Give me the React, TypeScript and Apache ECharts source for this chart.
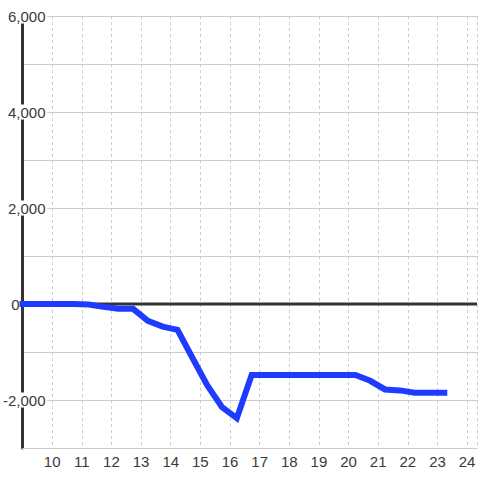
import React, { useEffect, useRef } from "react";
import * as echarts from "echarts";

const times = [
  9.0, 9.73, 10.23, 10.73, 11.23, 11.73, 12.23, 12.73, 13.23, 13.73, 14.23,
  14.73, 15.23, 15.73, 16.23, 16.73, 17.23, 17.73, 18.23, 18.73, 19.23, 19.73,
  20.23, 20.73, 21.23, 21.73, 22.23, 22.73, 23.23,
];
const values = [
  0, 0, 0, 0, -10, -60, -100, -100, -350, -470, -540, -1120, -1690, -2150,
  -2380, -1480, -1480, -1480, -1480, -1480, -1480, -1480, -1480, -1600, -1780,
  -1800, -1850, -1850, -1850,
];
const xMin = 9;
const xMax = 24.3333;
const yMin = -3000;
const yMax = 6000;
const yLabelValues = [6000, 4000, 2000, 0, -2000];

const FONT = "'Liberation Sans', Arial, sans-serif";
const FS = 15;
const LABEL_COLOR = "#3a3a3a";

export default function App() {
  const ref = useRef<HTMLDivElement>(null);
  useEffect(() => {
    if (!ref.current) return;
    const chart = echarts.init(ref.current, undefined, { renderer: "svg" });
    chart.setOption({
      animation: false,
      backgroundColor: "#ffffff",
      textStyle: { fontFamily: FONT },
      grid: { left: 20, right: 0, top: 16, bottom: 32, containLabel: false },
      xAxis: {
        type: "value",
        min: xMin,
        max: xMax,
        interval: 1,
        axisLine: { show: true, onZero: false, lineStyle: { color: "#cccccc", width: 1 } },
        axisTick: { show: false },
        splitLine: { show: true, lineStyle: { color: "#cccccc", width: 1, type: [3, 3] } },
        axisLabel: {
          color: LABEL_COLOR,
          fontSize: FS,
          fontFamily: FONT,
          margin: 6,
          formatter: (v: number) =>
            Math.abs(v - Math.round(v)) < 1e-6 && Math.round(v) !== xMin ? String(Math.round(v)) : "",
        },
      },
      yAxis: {
        type: "value",
        min: yMin,
        max: yMax,
        interval: 1000,
        axisLine: { show: true, onZero: false, lineStyle: { color: "#333333", width: 3 } },
        axisTick: { show: false },
        splitLine: { show: true, lineStyle: { color: "#cccccc", width: 1 } },
        axisLabel: {
          margin: -25,
          fontSize: FS,
          fontFamily: FONT,
          color: LABEL_COLOR,
          formatter: (v: number) => {
            if (!yLabelValues.includes(v)) return "";
            if (v === 0) return "{z|0}";
            return "{a|" + v.toLocaleString("en-US") + "}";
          },
          rich: {
            a: {
              fontSize: FS,
              fontFamily: FONT,
              color: LABEL_COLOR,
              backgroundColor: "#ffffff",
              padding: [0, 2, 0, 0],
            },
            z: {
              fontSize: FS,
              fontFamily: FONT,
              color: LABEL_COLOR,
              padding: [0, 28, 0, 0],
            },
          },
        },
      },
      series: [
        {
          type: "line",
          data: [
            [xMin, 0],
            [xMax, 0],
          ],
          symbol: "none",
          silent: true,
          lineStyle: { color: "#333333", width: 3 },
          z: 3,
        },
        {
          type: "line",
          data: times.map((t, i) => [t, values[i]]),
          symbol: "none",
          clip: false,
          lineStyle: { color: "#1f3bff", width: 6, cap: "square", join: "miter" },
          z: 4,
        },
      ],
    });
    return () => chart.dispose();
  }, []);
  return <div ref={ref} style={{ width: 480, height: 480, position: "absolute", left: 0, top: 0 }} />;
}
